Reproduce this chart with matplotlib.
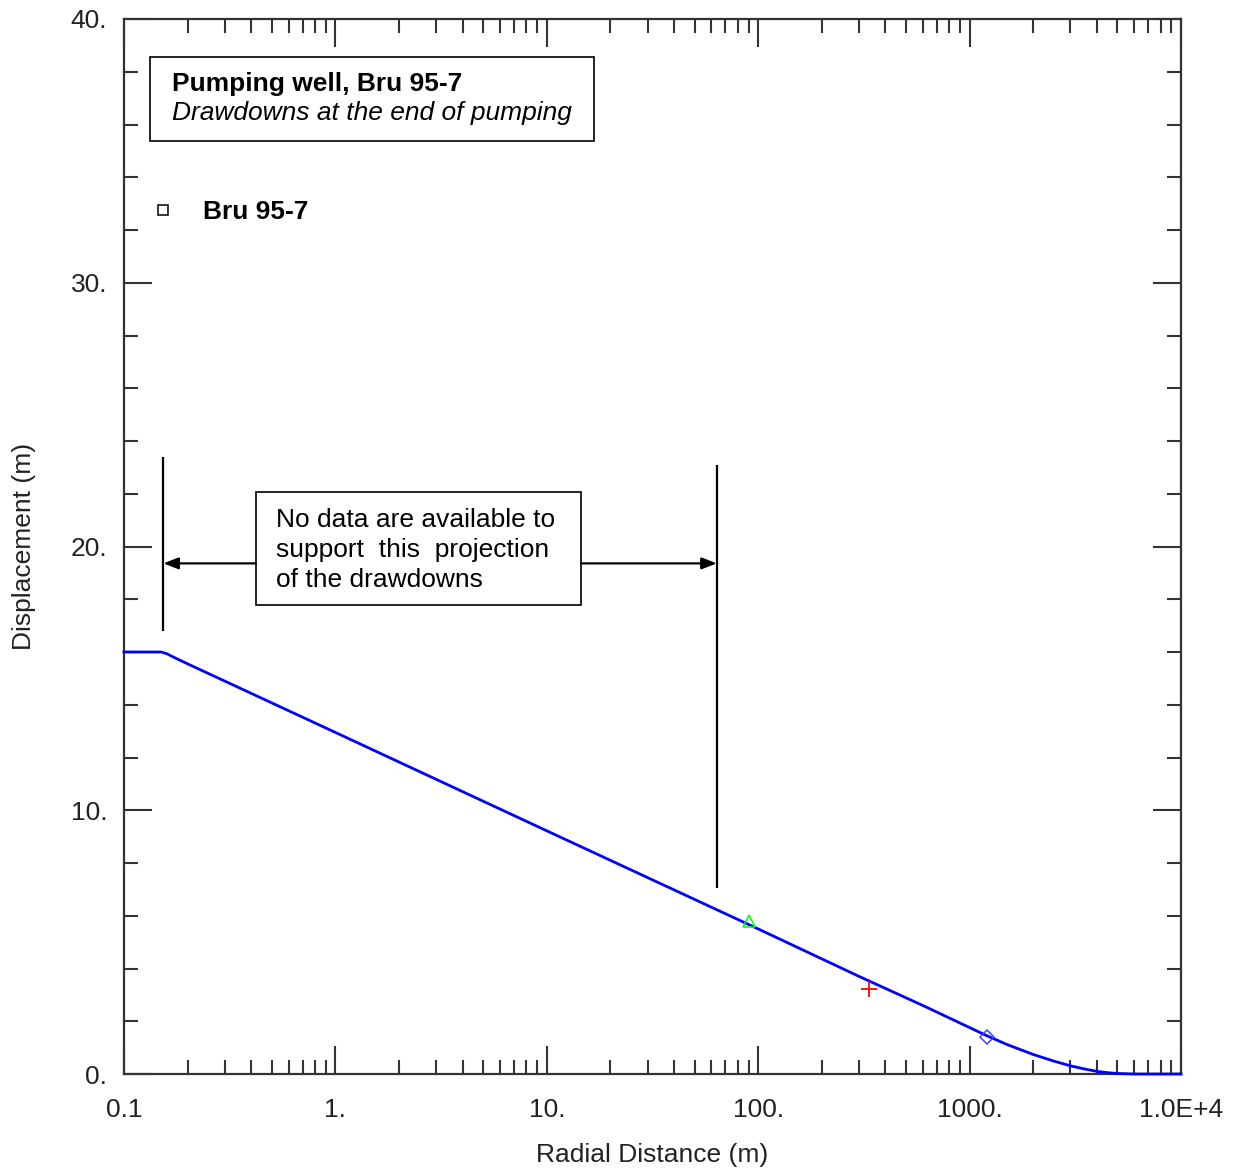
import matplotlib
matplotlib.use("Agg")
import matplotlib.pyplot as plt
from matplotlib.lines import Line2D
from matplotlib.patches import Rectangle
from matplotlib.ticker import FixedLocator, FixedFormatter, LogLocator, MultipleLocator, NullFormatter

plt.rcParams['font.family'] = ['Liberation Sans', 'DejaVu Sans']

# projected drawdown profile at end of pumping
radius = [0.1, 0.15, 0.16, 0.17, 0.2, 1.0, 10.0, 100.0, 300.0, 600.0, 1000.0,
          1200.0, 1500.0, 2000.0, 2500.0, 3000.0, 3500.0, 4000.0, 4500.0,
          5000.0, 6000.0, 10000.0]
drawdown = [16.0, 16.0, 15.93, 15.82, 15.55, 12.95, 9.22, 5.50, 3.70, 2.60, 1.76,
            1.46, 1.12, 0.74, 0.49, 0.31, 0.19, 0.10, 0.05,
            0.02, 0.0, 0.0]

# observation wells
obs_tri_r, obs_tri_s = [90.0], [5.80]
obs_plus_r, obs_plus_s = [334.0], [3.22]
obs_dia_r, obs_dia_s = [1208.0], [1.42]

xtick_vals = [0.1, 1, 10, 100, 1000, 10000]
xtick_labels = ['0.1', '1.', '10.', '100.', '1000.', '1.0E+4']
ytick_vals = [0, 10, 20, 30, 40]
ytick_labels = ['0.', '10.', '20.', '30.', '40.']

# extent of the unsupported projection
nodata_left, nodata_right = 0.1535, 63.7
nodata_left_ys = (16.8, 23.4)
nodata_right_ys = (7.05, 23.1)
arrow_y = 19.36
box_left_x, box_right_x = 0.421, 14.5

FS = 19
axis_col = '#333333'
label_col = '#222222'

fig = plt.figure(figsize=(12.37, 11.71), dpi=100)
ax = fig.add_axes([124 / 1237, 1 - 1074 / 1171, 1057 / 1237, 1055 / 1171])

ax.plot(radius, drawdown, color='#0000ff', lw=2.0, clip_on=False, zorder=5)
ax.plot(obs_tri_r, obs_tri_s, ls='none', marker='^', ms=9, mfc='none', mec='#00ff00', mew=1.1, zorder=6)
ax.plot(obs_plus_r, obs_plus_s, ls='none', marker='+', ms=11, mec='#ff0000', mew=1.3, zorder=6)
ax.plot(obs_dia_r, obs_dia_s, ls='none', marker='D', ms=7.5, mfc='none', mec='#4040ff', mew=1.1, zorder=6)

ax.set_xscale('log')
ax.set_xlim(0.1, 10000)
ax.set_ylim(0, 40)

ax.xaxis.set_major_locator(FixedLocator(xtick_vals))
ax.xaxis.set_major_formatter(FixedFormatter(xtick_labels))
ax.xaxis.set_minor_locator(LogLocator(base=10, subs=range(2, 10), numticks=20))
ax.xaxis.set_minor_formatter(NullFormatter())
ax.yaxis.set_major_locator(FixedLocator(ytick_vals))
ax.yaxis.set_major_formatter(FixedFormatter(ytick_labels))
ax.yaxis.set_minor_locator(MultipleLocator(2))

ax.tick_params(which='both', direction='in', top=True, right=True, color=axis_col, width=1.5)
ax.tick_params(which='major', length=20)
ax.tick_params(which='minor', length=10)
ax.tick_params(axis='x', which='major', pad=17, labelsize=FS, labelcolor=label_col)
ax.tick_params(axis='y', which='major', pad=12, labelsize=FS, labelcolor=label_col)
for sp in ax.spines.values():
    sp.set_color(axis_col)
    sp.set_linewidth(1.6)

ax.set_xlabel('Radial Distance (m)', fontsize=FS, color=label_col)
ax.set_ylabel('Displacement (m)', fontsize=FS, color=label_col)
ax.xaxis.set_label_coords(0.5, -0.0654)
ax.yaxis.set_label_coords(-0.0833, 0.5)

# title box
ax.add_patch(Rectangle((0.0246, 0.8844), 0.4201, 0.0796, transform=ax.transAxes,
                       fill=False, ec='black', lw=1.2))
ax.text(0.0454, 0.9384, 'Pumping well, Bru 95-7', transform=ax.transAxes,
        fontsize=FS, fontweight='bold', va='center', ha='left')
ax.text(0.0454, 0.9109, 'Drawdowns at the end of pumping', transform=ax.transAxes,
        fontsize=FS, fontstyle='italic', va='center', ha='left')

# legend entry
handle = Line2D([], [], ls='none', marker='s', ms=7, mfc='none', mec='black', mew=1.1)
ax.legend([handle], ['Bru 95-7'], loc='center left', bbox_to_anchor=(0.027, 0.8171),
          frameon=False, borderpad=0, borderaxespad=0, handlelength=0.8,
          handletextpad=1.1, prop={'weight': 'bold', 'size': FS})

# note box with arrows
ax.add_patch(Rectangle((0.1249, 0.4445), 0.3075, 0.1072, transform=ax.transAxes,
                       fill=False, ec='black', lw=1.2))
note_lines = ['No data are available to', 'support  this  projection', 'of the drawdowns']
for line, yy in zip(note_lines, [0.5251, 0.4967, 0.4682]):
    ax.text(0.1438, yy, line, transform=ax.transAxes, fontsize=FS, va='center', ha='left')

ax.vlines([nodata_left], *nodata_left_ys, color='black', lw=1.6)
ax.vlines([nodata_right], *nodata_right_ys, color='black', lw=1.6)
arrow_style = dict(arrowstyle='-|>,head_length=0.9,head_width=0.35', color='black',
                   lw=1.6, shrinkA=0, shrinkB=0)
ax.annotate('', xy=(nodata_left, arrow_y), xytext=(box_left_x, arrow_y), arrowprops=arrow_style)
ax.annotate('', xy=(nodata_right, arrow_y), xytext=(box_right_x, arrow_y), arrowprops=arrow_style)

fig.savefig('out.png', dpi=100)
